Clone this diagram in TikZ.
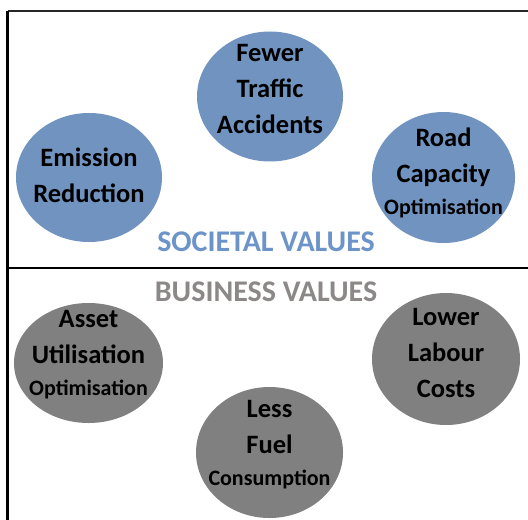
\documentclass[tikz,border=0pt]{standalone}
\usepackage{fontspec}
\setmainfont{Carlito}
\usetikzlibrary{shapes.geometric}
\definecolor{socblue}{RGB}{112,147,192}
\definecolor{soctext}{RGB}{108,148,200}
\definecolor{busgrey}{RGB}{128,128,128}
\definecolor{bustext}{RGB}{140,136,136}
\newcommand{\bigline}{\fontsize{26.5bp}{36bp}\selectfont}
\newcommand{\smallline}{\fontsize{22bp}{32bp}\selectfont}
\tikzset{
  blob/.style={ellipse, inner sep=0pt, outer sep=0pt, draw=none},
  socblob/.style={blob, fill=socblue},
  busblob/.style={blob, fill=busgrey},
  blobtext/.style={align=center, inner sep=0pt, font=\bigline\bfseries, text=black},
  heading/.style={inner sep=0pt, font=\fontsize{30bp}{34bp}\selectfont\bfseries},
  frame/.style={line width=2.4bp, black}
}
\begin{document}
\begin{tikzpicture}[x=1bp, y=-1bp]
\useasboundingbox (0,0) rectangle (528,520);

% frame and divider
\coordinate (tl) at (7.5,11);
\coordinate (tr) at (528,11);
\coordinate (bl) at (7.5,520);
\coordinate (ml) at (7.5,268);
\coordinate (mr) at (528,268);
\draw[line width=1.6bp, black!85] (tl) -- (tr);
\draw[frame] (tl) -- (bl);
\draw[frame] (ml) -- (mr);

% societal values
\node[socblob, minimum width=146bp, minimum height=130bp] (fta) at (270,96.5) {};
\node[socblob, minimum width=146bp, minimum height=129bp] (emr) at (89,177.5) {};
\node[socblob, minimum width=143bp, minimum height=131bp] (rco) at (443.5,177.5) {};
\node[blobtext] (ftat) at (270,89) {Fewer\\Traffic\\Accidents};
\node[blobtext] (emrt) at (89,175) {Emission\\Reduction};
\node[blobtext] (rcot) at (443.5,172.5) {Road\\Capacity\\[-4bp]{\smallline Optimisation}};
\node[heading, text=soctext] (soc) at (266,241.5) {SOCIETAL VALUES};

% business values
\node[busblob, minimum width=149bp, minimum height=120bp] (auo) at (88.5,363) {};
\node[busblob, minimum width=148bp, minimum height=132bp] (llc) at (446,359) {};
\node[busblob, minimum width=147bp, minimum height=131bp] (lfc) at (269.5,452.5) {};
\node[blobtext] (auot) at (88.5,355) {Asset\\Utilisation\\[-4bp]{\smallline Optimisation}};
\node[blobtext] (llct) at (446,353.5) {Lower\\Labour\\Costs};
\node[blobtext] (lfct) at (269.5,445) {Less\\Fuel\\[-4bp]{\smallline Consumption}};
\node[heading, text=bustext] (bus) at (266,291.5) {BUSINESS VALUES};
\end{tikzpicture}
\end{document}
